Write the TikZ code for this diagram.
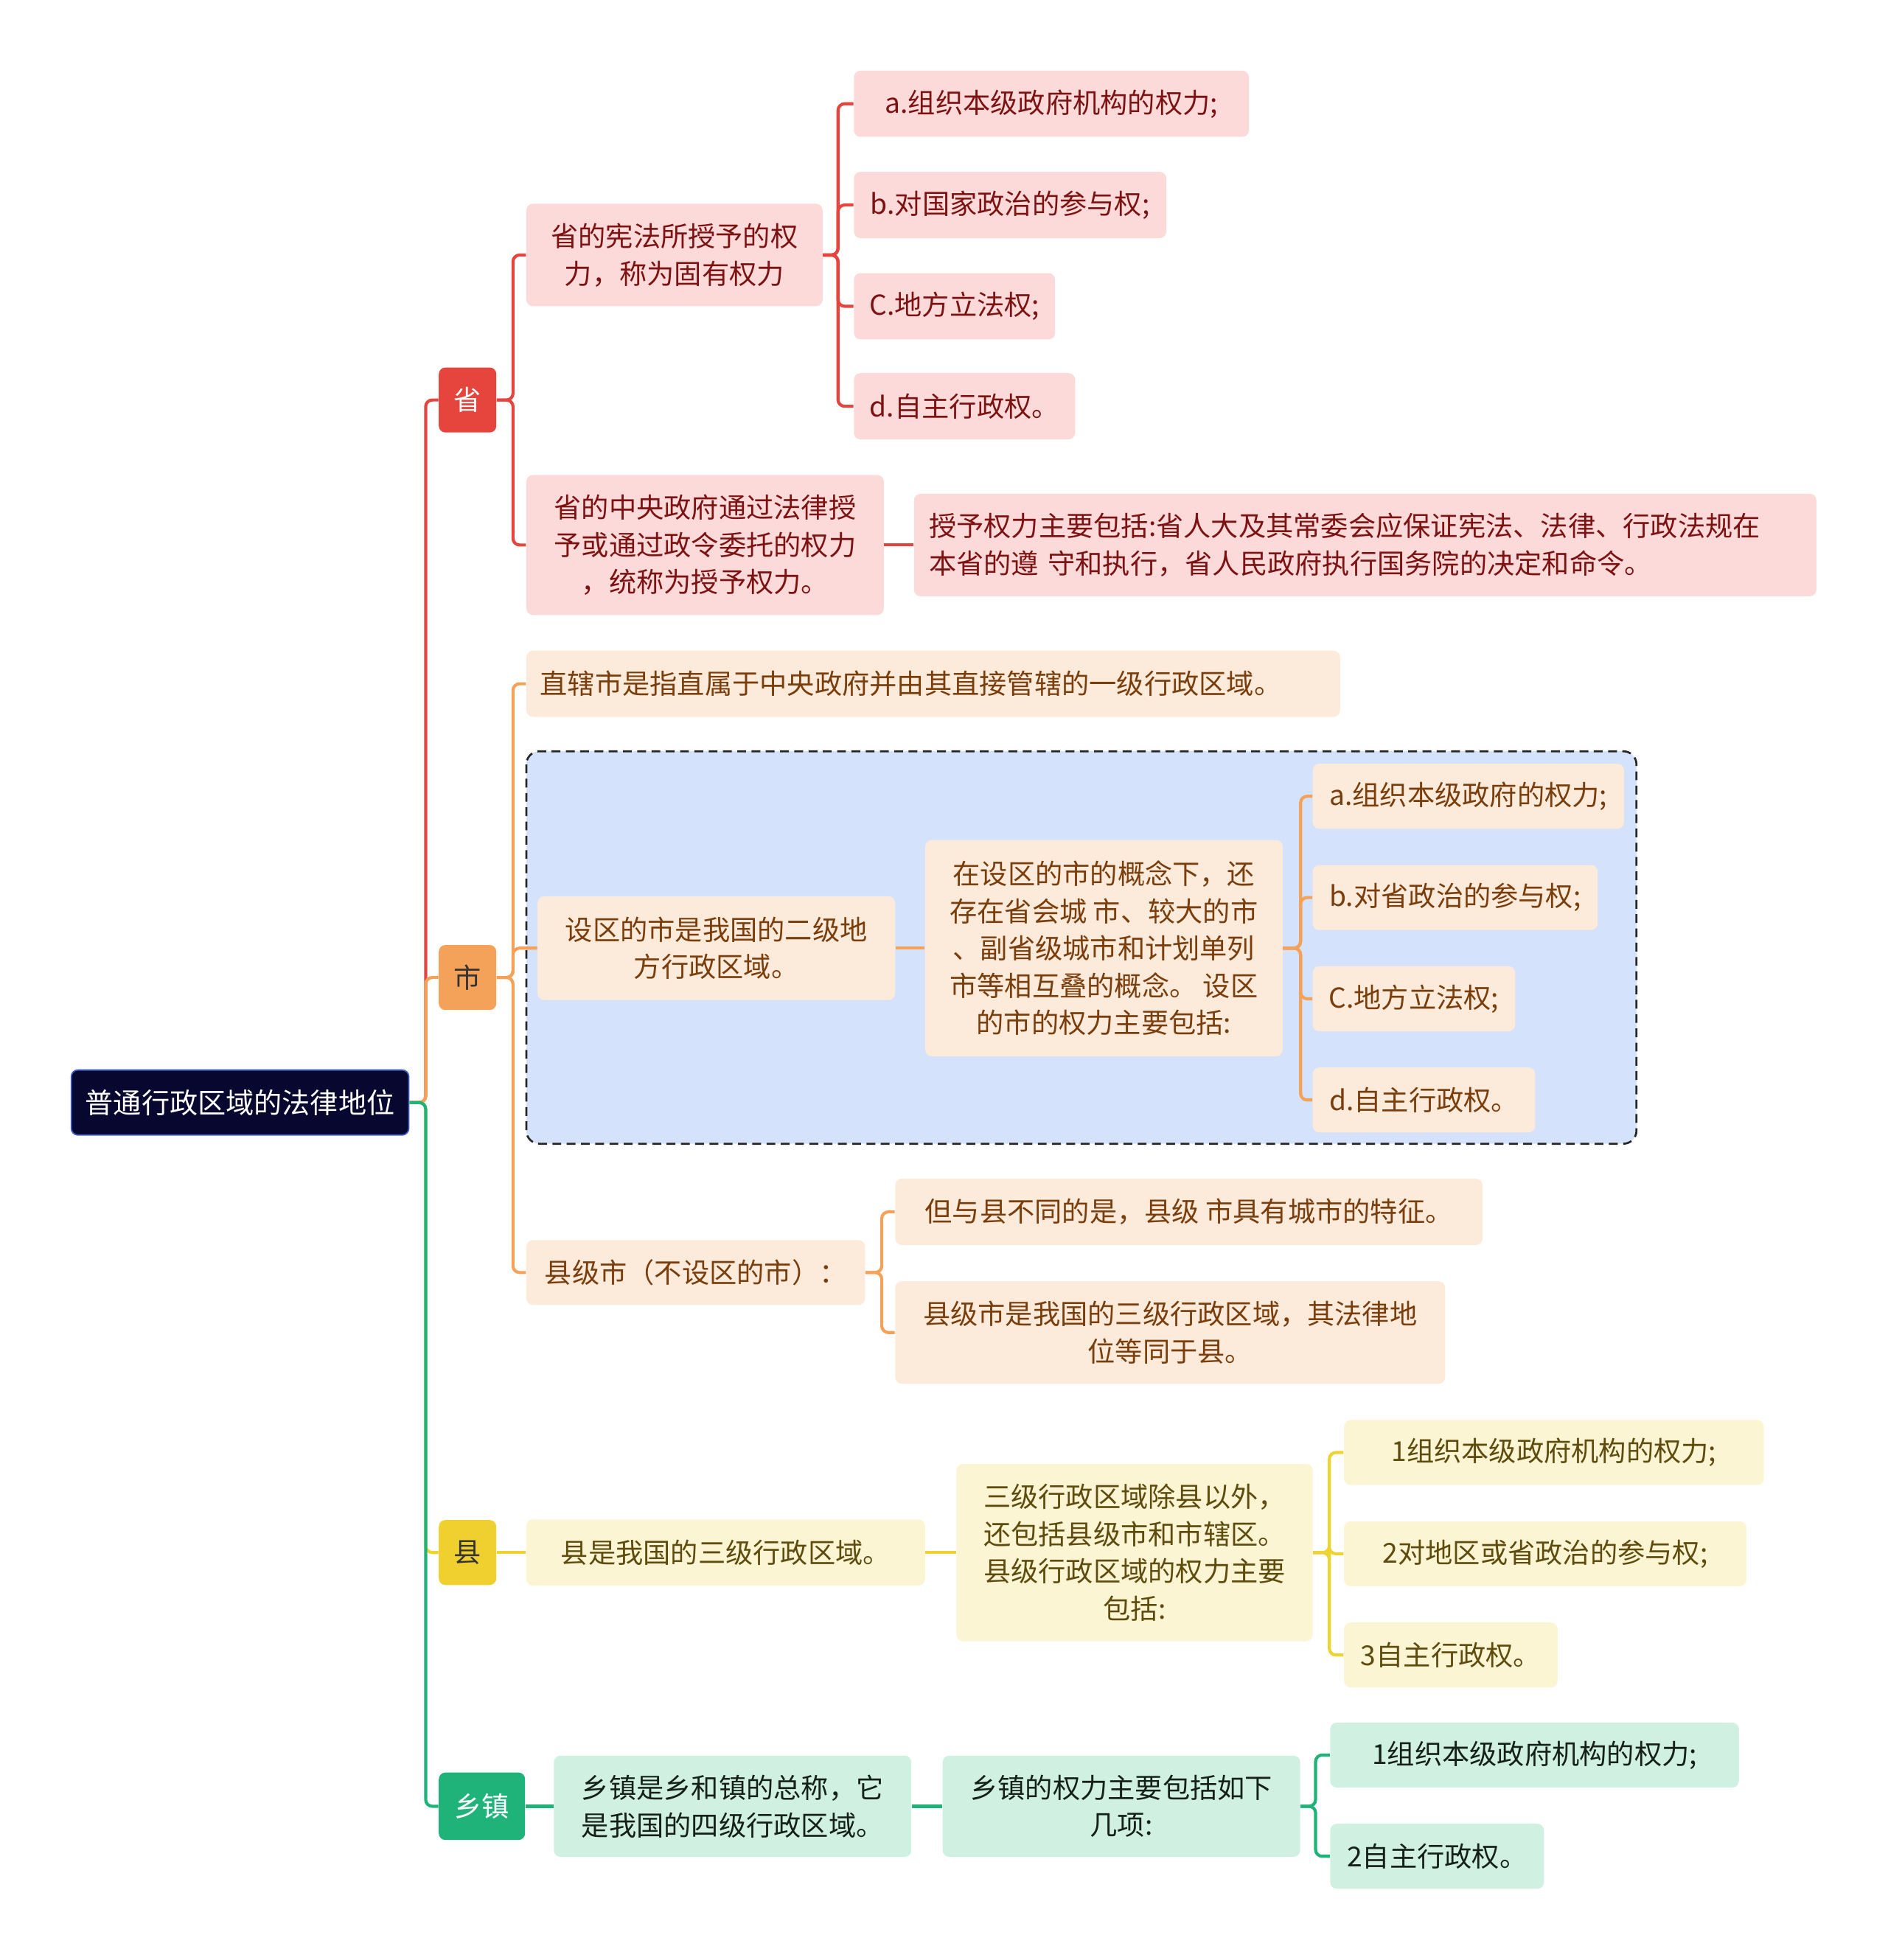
\documentclass[tikz,border=0pt]{standalone}
\usepackage{fontspec}
\setmainfont{Noto Sans CJK SC}
\usepackage{tikz}

\definecolor{rootFill}{HTML}{07072F}
\definecolor{rootLine}{HTML}{3D5CC0}
\definecolor{shengC}{HTML}{E6453D}
\definecolor{shengFill}{HTML}{FCDADA}
\definecolor{shengText}{HTML}{7D1212}
\definecolor{shiC}{HTML}{F4A259}
\definecolor{shiFill}{HTML}{FCEBDB}
\definecolor{shiText}{HTML}{7A3D0C}
\definecolor{xianC}{HTML}{EED431}
\definecolor{xianFill}{HTML}{FCF5D3}
\definecolor{xianText}{HTML}{5E4B0E}
\definecolor{xzC}{HTML}{1FB37A}
\definecolor{xzFill}{HTML}{D0F1E2}
\definecolor{xzText}{HTML}{152019}
\definecolor{groupFill}{HTML}{D4E3FB}

\begin{document}
\begin{tikzpicture}[x=0.02cm,y=-0.02cm,
	box/.style={rounded corners=3pt,inner sep=2pt,align=center,minimum height=1.05cm,font=\fontsize{12.5}{17}\selectfont},
	topbox/.style={box,text=white,minimum width=0.92cm,minimum height=1.04cm},
	shengbox/.style={box,fill=shengFill,text=shengText},
	shibox/.style={box,fill=shiFill,text=shiText},
	xianbox/.style={box,fill=xianFill,text=xianText},
	xzbox/.style={box,fill=xzFill,text=xzText},
	link/.style={line width=1.4pt,rounded corners=3pt},
	shengline/.style={link,draw=shengC},
	shiline/.style={link,draw=shiC},
	xianline/.style={link,draw=xianC},
	xzline/.style={link,draw=xzC}]
	\useasboundingbox (0,0) rectangle (1510,1568);
	% dashed group round the second-level city part
	\draw[fill=groupFill,draw=black!85,line width=0.9pt,dash pattern=on 4pt off 2.5pt,rounded corners=6pt] (421,601) rectangle (1309,915);

	\node[box,fill=rootFill,draw=rootLine,line width=0.6pt,text=white,minimum width=5.4cm,minimum height=1.04cm,font=\fontsize{12.8}{17}\selectfont] (root) at (192,882) {普通行政区域的法律地位};

	\node[topbox,fill=shengC] (sheng) at (374,320) {省};
	\node[topbox,fill=shiC,text=black!80] (shi) at (374,782) {市};
	\node[topbox,fill=xianC!95!orange,text=black!80] (xian) at (374,1242) {县};
	\node[topbox,fill=xzC,minimum width=1.38cm,minimum height=1.08cm] (xz) at (385.5,1445) {乡镇};

	% 省
	\node[shengbox,minimum width=4.74cm,minimum height=1.64cm] (p1) at (539.5,204) {省的宪法所授予的权\\力，称为固有权力};
	\node[shengbox,minimum width=5.72cm,minimum height=2.24cm] (p2) at (564,436) {省的中央政府通过法律授\\予或通过政令委托的权力\\，统称为授予权力。};
	\node[shengbox,align=left,inner xsep=0.24cm,text width=13.96cm,minimum height=1.64cm] (p2c) at (1092,436) {授予权力主要包括:省人大及其常委会应保证宪法、法律、行政法规在\\本省的遵 守和执行，省人民政府执行国务院的决定和命令。};
	\node[shengbox,minimum width=6.32cm,minimum height=1.06cm] (pa) at (841,83) {a.组织本级政府机构的权力;};
	\node[shengbox,minimum width=5.0cm,minimum height=1.06cm] (pb) at (808,164) {b.对国家政治的参与权;};
	\node[shengbox,minimum width=3.22cm,minimum height=1.06cm] (pc) at (763.5,245) {C.地方立法权;};
	\node[shengbox,minimum width=3.54cm,minimum height=1.06cm] (pd) at (771.5,325) {d.自主行政权。};

	% 市
	\node[shibox,align=left,inner xsep=0.22cm,text width=12.58cm,minimum height=1.06cm] (c1) at (746.5,547) {直辖市是指直属于中央政府并由其直接管辖的一级行政区域。};
	\node[shibox,minimum width=5.72cm,minimum height=1.66cm] (c2) at (573,758.5) {设区的市是我国的二级地\\方行政区域。};
	\node[shibox,minimum width=5.72cm,minimum height=3.46cm] (c2c) at (883,758.5) {在设区的市的概念下，还\\存在省会城 市、较大的市\\、副省级城市和计划单列\\市等相互叠的概念。 设区\\的市的权力主要包括:};
	\node[shibox,minimum width=4.98cm,minimum height=1.04cm] (ca) at (1174.5,637) {a.组织本级政府的权力;};
	\node[shibox,minimum width=4.56cm,minimum height=1.04cm] (cb) at (1164,718) {b.对省政治的参与权;};
	\node[shibox,minimum width=3.24cm,minimum height=1.04cm] (cc) at (1131,799) {C.地方立法权;};
	\node[shibox,minimum width=3.56cm,minimum height=1.04cm] (cd) at (1139,880) {d.自主行政权。};
	\node[shibox,minimum width=5.42cm,minimum height=1.04cm] (c3) at (556.5,1018) {县级市（不设区的市）：};
	\node[shibox,minimum width=9.4cm,minimum height=1.06cm] (c3a) at (951,969.5) {但与县不同的是，县级 市具有城市的特征。};
	\node[shibox,minimum width=8.8cm,minimum height=1.64cm] (c3b) at (936,1066) {县级市是我国的三级行政区域，其法律地\\位等同于县。};

	% 县
	\node[xianbox,minimum width=6.38cm,minimum height=1.06cm] (x1) at (580.5,1242) {县是我国的三级行政区域。};
	\node[xianbox,minimum width=5.7cm,minimum height=2.84cm] (x2) at (907.5,1242) {三级行政区域除县以外，\\还包括县级市和市辖区。\\县级行政区域的权力主要\\包括:};
	\node[xianbox,minimum width=6.72cm,minimum height=1.04cm] (xa) at (1243,1162) {1组织本级政府机构的权力;};
	\node[xianbox,minimum width=6.44cm,minimum height=1.04cm] (xb) at (1236,1243) {2对地区或省政治的参与权;};
	\node[xianbox,minimum width=3.42cm,minimum height=1.04cm] (xc) at (1160.5,1324) {3自主行政权。};

	% 乡镇
	\node[xzbox,minimum width=5.72cm,minimum height=1.62cm] (z1) at (586,1445) {乡镇是乡和镇的总称，它\\是我国的四级行政区域。};
	\node[xzbox,minimum width=5.72cm,minimum height=1.62cm] (z2) at (897,1445) {乡镇的权力主要包括如下\\几项:};
	\node[xzbox,minimum width=6.54cm,minimum height=1.04cm] (za) at (1227.5,1404) {1组织本级政府机构的权力;};
	\node[xzbox,minimum width=3.42cm,minimum height=1.04cm] (zb) at (1149.5,1485) {2自主行政权。};

	% connectors
	\draw[shengline] (root.east) -- ++(13,0) |- (sheng.west);
	\draw[shiline] (root.east) -- ++(13,0) |- (shi.west);
	\draw[xianline] (root.east) -- ++(13,0) |- (xian.west);
	\draw[xzline] (root.east) -- ++(13,0) |- (xz.west);

	\foreach \n in {p1,p2}
		\draw[shengline] (sheng.east) -- ++(13,0) |- (\n.west);
	\foreach \n in {pa,pb,pc,pd}
		\draw[shengline] (p1.east) -- ++(12,0) |- (\n.west);
	\draw[shengline] (p2) -- (p2c);

	\foreach \n in {c1,c2,c3}
		\draw[shiline] (shi.east) -- ++(13,0) |- (\n.west);
	\draw[shiline] (c2) -- (c2c);
	\foreach \n in {ca,cb,cc,cd}
		\draw[shiline] (c2c.east) -- ++(14,0) |- (\n.west);
	\foreach \n in {c3a,c3b}
		\draw[shiline] (c3.east) -- ++(13,0) |- (\n.west);

	\draw[xianline] (xian) -- (x1);
	\draw[xianline] (x1) -- (x2);
	\foreach \n in {xa,xb,xc}
		\draw[xianline] (x2.east) -- ++(13,0) |- (\n.west);

	\draw[xzline] (xz) -- (z1);
	\draw[xzline] (z1) -- (z2);
	\foreach \n in {za,zb}
		\draw[xzline] (z2.east) -- ++(12,0) |- (\n.west);
\end{tikzpicture}
\end{document}
